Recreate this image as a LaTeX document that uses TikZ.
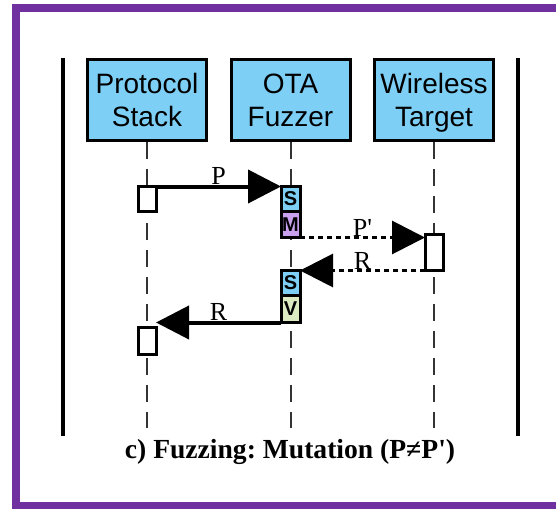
\documentclass[tikz,border=0pt]{standalone}
\usepackage{fontspec}
\setmainfont{Liberation Serif}
\setsansfont{Liberation Sans}
\usetikzlibrary{positioning, arrows.meta}
\definecolor{frame_color}{RGB}{112, 48, 160}
\definecolor{head_color}{RGB}{125, 207, 245}
\definecolor{mut_color}{RGB}{200, 160, 238}
\definecolor{val_color}{RGB}{221, 235, 195}

\begin{document}
\frenchspacing
\begin{tikzpicture}[x=0.5pt, y=-0.5pt,
    head/.style={draw, line width=1.5pt, fill=head_color, minimum width=59.5pt, minimum height=40.5pt,
      inner sep=0pt, text depth=-3pt, align=center, font=\sffamily\fontsize{14}{16.5}\selectfont},
    act/.style={draw, line width=1.5pt, fill=white, minimum width=9pt, inner sep=0pt, outer sep=0pt},
    tag/.style={act, minimum width=9.5pt, font=\sffamily\bfseries\fontsize{10}{10}\selectfont},
    life/.style={line width=1pt, black!80, dash pattern=on 8.5pt off 5pt},
    msg/.style={line width=2pt, -{Triangle[length=16.5pt, width=16.5pt]}},
    lbl/.style={above, inner sep=0pt, pos=0.5, font=\fontsize{13}{13}\selectfont}]

      \useasboundingbox (0,0) rectangle (556,508);
      \clip (0,0) rectangle (556,508);

      % 1. Marco morado y barras laterales
      \draw[line width=4pt, frame_color] (16,8) rectangle (620,506);
      \draw[line width=1.8pt] (63,58) -- (63,436);
      \draw[line width=1.8pt] (518,58) -- (518,436);

      % 2. CABECERAS (una por participante)
      \node[head] (stack)  at (147,100)   {Protocol\\Stack};
      \node[head] (fuzzer) at (290.5,100) {OTA\\Fuzzer};
      \node[head] (target) at (434,100)   {Wireless\\Target};

      % 3. Líneas de vida
      \coordinate (bottom) at (0,428);
      \draw[life] (stack.south)  -- (stack.south |- bottom);
      \draw[life] (fuzzer.south) -- (fuzzer.south |- bottom);
      \draw[life] (target.south) -- (target.south |- bottom);

      % 4. CAJAS DE ACTIVACIÓN
      % Protocol Stack
      \node[act, minimum height=12.5pt] (actA) at (147,199) {};
      \node[act, minimum height=13.5pt] (actB) at (147,341) {};

      % OTA Fuzzer (S / M y S / V)
      \node[tag, fill=head_color, minimum height=12.5pt] (s1) at (290.5,199) {S};
      \node[tag, fill=mut_color, minimum height=13pt, below=0pt of s1] (m1) {M};
      \node[tag, fill=head_color, minimum height=12.5pt] (s2) at (290.5,283) {S};
      \node[tag, fill=val_color, minimum height=13.5pt, below=0pt of s2] (v2) {V};

      % Wireless Target
      \node[act, minimum height=18pt] (tgt) at (434,252.5) {};

      % 5. MENSAJES
      \draw[msg] (actA.north east) -- node[lbl] {P} (s1.north west);
      \draw[msg, line width=1.5pt, dash pattern=on 2.5pt off 2pt]
        (m1.south east) -- node[lbl] {P\textquotesingle} (m1.south east -| tgt.west);
      \draw[msg, line width=1.5pt, dash pattern=on 2.5pt off 2pt]
        (tgt.west |- s2.north) -- node[lbl] {R} (s2.north east);
      \draw[msg] (v2.south west) -- node[lbl] {R} (v2.south west -| actB.east);

      % 6. Título
      \node[anchor=base, inner sep=0pt, font=\bfseries\fontsize{13.8}{13.8}\selectfont] (title) at (290,458)
        {c) Fuzzing: Mutation (P≠P\textquotesingle)};

\end{tikzpicture}
\end{document}
